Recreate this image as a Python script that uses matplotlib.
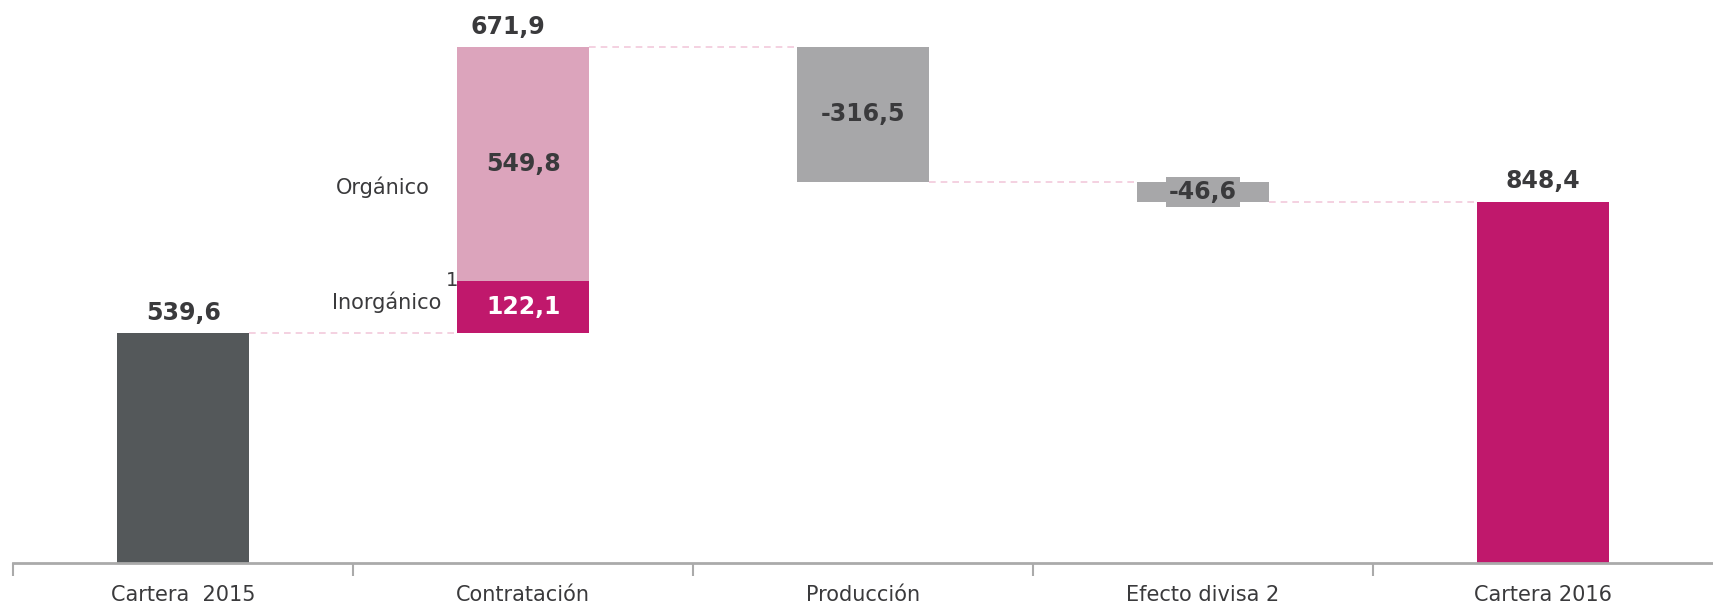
import matplotlib.pyplot as plt

categories = ['Cartera  2015', 'Contratación', 'Producción', 'Efecto divisa 2', 'Cartera 2016']
cartera_2015 = 539.6
inorganico = 122.1
organico = 549.8
produccion = -316.5
divisa = -46.6
cartera_2016 = 848.4
contratacion = 671.9

plt.rcParams['font.family'] = ['DejaVu Sans']


def fmt(v):
    return '{:.1f}'.format(v).replace('.', ',')


dark = '#54585A'
pink_light = '#DCA4BC'
magenta = '#C0186C'
grey = '#A7A7A9'
txt = '#3A3A3C'
line_c = '#F2CADB'

fig = plt.figure(figsize=(17.13, 6.11), dpi=100)
ax = fig.add_axes([0.0077, 0.079, 0.9923, 0.921])
w = 0.39

# niveles acumulados
lvl0 = cartera_2015
lvl1 = lvl0 + inorganico
lvl2 = lvl1 + organico
lvl3 = lvl2 + produccion
lvl4 = lvl3 + divisa

ax.bar(0, cartera_2015, w, color=dark)
ax.bar(1, inorganico, w, bottom=lvl0, color=magenta)
ax.bar(1, organico, w, bottom=lvl1, color=pink_light)
ax.bar(2, -produccion, w, bottom=lvl3, color=grey)
ax.bar(3, -divisa, w, bottom=lvl4, color=grey)
ax.bar(4, cartera_2016, w, color=magenta)

# conectores
for x0, y in [(0, lvl0), (1, lvl2), (2, lvl3), (3, lvl4)]:
    ax.plot([x0 + w / 2, x0 + 1 - w / 2], [y, y], color=line_c, lw=1.2,
            ls=(0, (4, 3)), zorder=0)

bold = dict(fontsize=17, fontweight='bold', color=txt)
ax.annotate(fmt(cartera_2015), (0, lvl0), xytext=(0, 6), textcoords='offset points',
            ha='center', va='bottom', **bold)
ax.annotate(fmt(contratacion), (0.955, lvl2), xytext=(0, 6), textcoords='offset points',
            ha='center', va='bottom', **bold)
ax.annotate(fmt(cartera_2016), (4, cartera_2016), xytext=(0, 6), textcoords='offset points',
            ha='center', va='bottom', **bold)
ax.text(1, lvl0 + inorganico / 2, fmt(inorganico), ha='center', va='center',
        fontsize=17, fontweight='bold', color='white')
ax.text(1, lvl1 + organico / 2, fmt(organico), ha='center', va='center', **bold)
ax.text(2, lvl3 - produccion / 2, fmt(produccion), ha='center', va='center', **bold)
ax.text(3, lvl4 - divisa / 2, fmt(divisa), ha='center', va='center',
        bbox=dict(boxstyle='square,pad=0.12', fc=grey, ec='none'), **bold)

ax.text(0.725, 883, 'Orgánico', ha='right', va='center', fontsize=15, color=txt)
ax.text(0.76, 611, 'Inorgánico', ha='right', va='center', fontsize=15, color=txt)
ax.text(0.79, 662, '1', ha='center', va='center', fontsize=14, color=txt)

ax.set_xlim(-0.5, 4.5)
ax.set_ylim(0, 1322)
for s in ['top', 'right', 'left']:
    ax.spines[s].set_visible(False)
ax.spines['bottom'].set_color('#AAAAAA')
ax.spines['bottom'].set_linewidth(2)
ax.set_yticks([])
ax.set_xticks([-0.5, 0.5, 1.5, 2.5, 3.5])
ax.set_xticklabels([])
ax.tick_params(axis='x', which='major', length=9, width=1.5, color='#AAAAAA')
ax.set_xticks(range(len(categories)), minor=True)
ax.set_xticklabels(categories, minor=True, fontsize=15, color=txt)
ax.tick_params(axis='x', which='minor', length=0, pad=16)

fig.savefig('out.png', dpi=100)
